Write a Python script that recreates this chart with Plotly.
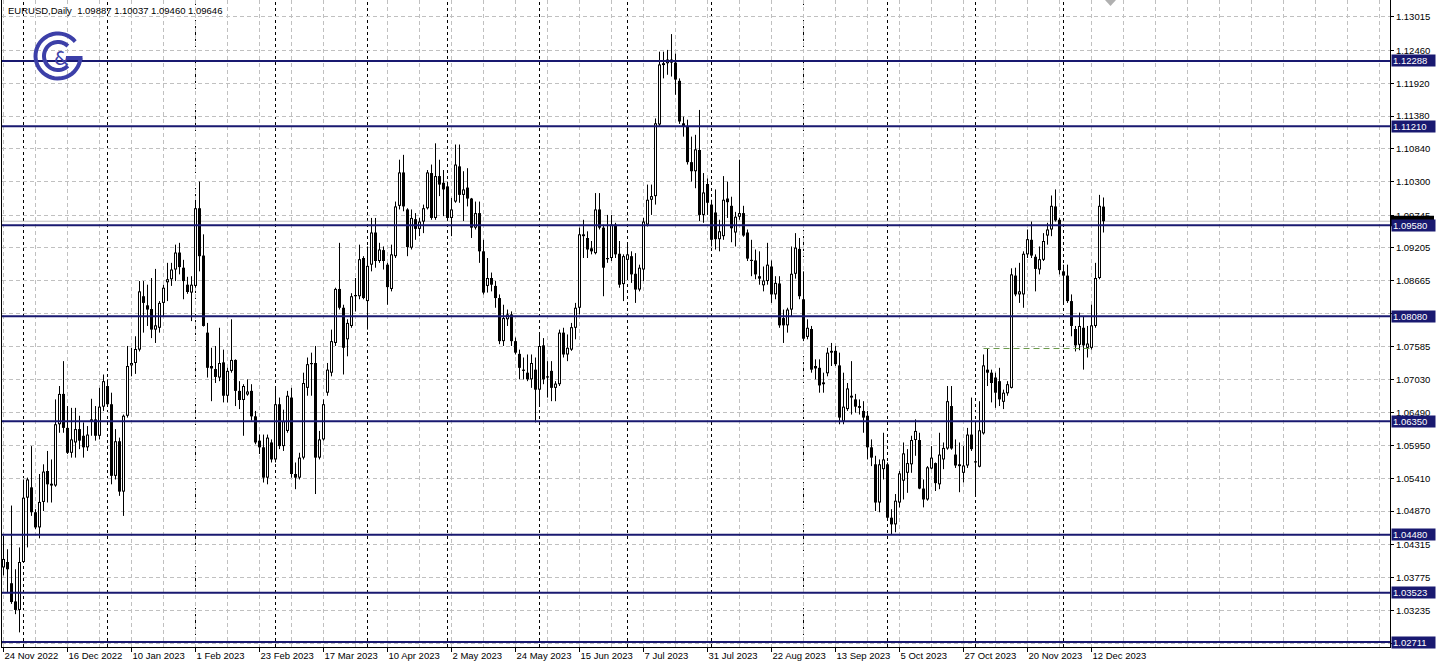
import plotly.graph_objects as go
import math

# ---------------- data (EURUSD daily) ----------------
title_text = "EURUSD,Daily  1.09887 1.10037 1.09460 1.09646"

opens = [
    1.0394, 1.0403, 1.0368, 1.0338, 1.0324, 1.0403, 1.0509, 1.0526, 1.0485, 1.0460,
    1.0502, 1.0553, 1.0532, 1.0529, 1.0630, 1.0680, 1.0624, 1.0583, 1.0600, 1.0622,
    1.0611, 1.0592, 1.0634, 1.0638, 1.0611, 1.0659, 1.0693, 1.0663, 1.0545, 1.0602,
    1.0519, 1.0644, 1.0727, 1.0731, 1.0753, 1.0841, 1.0826, 1.0820, 1.0786, 1.0789,
    1.0830, 1.0864, 1.0869, 1.0885, 1.0913, 1.0888, 1.0860, 1.0847, 1.0858, 1.0986,
    1.0908, 1.0781, 1.0726, 1.0721, 1.0707, 1.0732, 1.0677, 1.0718, 1.0736, 1.0685,
    1.0670, 1.0679, 1.0685, 1.0643, 1.0603, 1.0592, 1.0542, 1.0600, 1.0572, 1.0663,
    1.0594, 1.0619, 1.0674, 1.0548, 1.0542, 1.0575, 1.0690, 1.0729, 1.0731, 1.0575,
    1.0605, 1.0682, 1.0715, 1.0764, 1.0853, 1.0822, 1.0770, 1.0792, 1.0841, 1.0841,
    1.0904, 1.0833, 1.0893, 1.0946, 1.0899, 1.0917, 1.0893, 1.0853, 1.0907, 1.0990,
    1.1045, 1.0984, 1.0921, 1.0968, 1.0952, 1.0964, 1.0986, 1.1044, 1.0970, 1.1039,
    1.1028, 1.1022, 1.0970, 1.0997, 1.1055, 1.1008, 1.1020, 1.1002, 1.0954, 1.0978,
    1.0915, 1.0858, 1.0871, 1.0858, 1.0838, 1.0767, 1.0803, 1.0811, 1.0767, 1.0746,
    1.0720, 1.0715, 1.0704, 1.0720, 1.0687, 1.0760, 1.0709, 1.0718, 1.0690, 1.0696,
    1.0781, 1.0745, 1.0753, 1.0789, 1.0822, 1.0943, 1.0937, 1.0920, 1.0912, 1.0984,
    1.0954, 1.0904, 1.0904, 1.0959, 1.0911, 1.0861, 1.0901, 1.0907, 1.0878, 1.0852,
    1.0885, 1.0959, 1.1000, 1.1006, 1.1124, 1.1225, 1.1225, 1.1231, 1.1226, 1.1196,
    1.1126, 1.1121, 1.1062, 1.1047, 1.1082, 1.0975, 1.1026, 1.0992, 1.0979, 1.0935,
    1.0940, 1.1002, 1.0990, 1.0946, 1.0972, 1.0978, 1.0946, 1.0901, 1.0900, 1.0874,
    1.0859, 1.0866, 1.0890, 1.0844, 1.0862, 1.0805, 1.0793, 1.0819, 1.0878, 1.0919,
    1.0836, 1.0774, 1.0787, 1.0726, 1.0723, 1.0699, 1.0714, 1.0748, 1.0751, 1.0727,
    1.0635, 1.0655, 1.0677, 1.0671, 1.0657, 1.0652, 1.0644, 1.0592, 1.0564, 1.0501,
    1.0556, 1.0564, 1.0476, 1.0465, 1.0501, 1.0537, 1.0550, 1.0564, 1.0604, 1.0604,
    1.0524, 1.0506, 1.0557, 1.0566, 1.0531, 1.0572, 1.0590, 1.0660, 1.0580, 1.0564,
    1.0550, 1.0562, 1.0613, 1.0569, 1.0560, 1.0615, 1.0720, 1.0715, 1.0707, 1.0701,
    1.0667, 1.0681, 1.0690, 1.0875, 1.0844, 1.0844, 1.0910, 1.0934, 1.0906, 1.0885,
    1.0901, 1.0941, 1.0951, 1.0989, 1.0967, 1.0882, 1.0875, 1.0833, 1.0787, 1.0761,
    1.0789, 1.0756, 1.0756, 1.0792, 1.0871, 1.09887,
]
highs = [
    1.0446, 1.0424, 1.0496, 1.0391, 1.0427, 1.0539, 1.0542, 1.0594, 1.0490, 1.0548,
    1.0564, 1.0586, 1.0572, 1.0671, 1.0693, 1.0734, 1.0660, 1.0657, 1.0657, 1.0644,
    1.0633, 1.0627, 1.0672, 1.0660, 1.0690, 1.0712, 1.0704, 1.0682, 1.0622, 1.0608,
    1.0646, 1.0759, 1.0756, 1.0775, 1.0866, 1.0866, 1.0860, 1.0871, 1.0886, 1.0833,
    1.0860, 1.0896, 1.0896, 1.0926, 1.0929, 1.0901, 1.0873, 1.0874, 1.0997, 1.1030,
    1.0943, 1.0797, 1.0756, 1.0759, 1.0789, 1.0753, 1.0723, 1.0803, 1.0737, 1.0701,
    1.0696, 1.0704, 1.0696, 1.0652, 1.0613, 1.0613, 1.0613, 1.0605, 1.0693, 1.0674,
    1.0654, 1.0685, 1.0690, 1.0567, 1.0583, 1.0715, 1.0740, 1.0748, 1.0759, 1.0619,
    1.0671, 1.0731, 1.0786, 1.0855, 1.0929, 1.0827, 1.0803, 1.0846, 1.0871, 1.0926,
    1.0907, 1.0923, 1.0970, 1.0970, 1.0929, 1.0923, 1.0896, 1.0926, 1.0997, 1.1066,
    1.1074, 1.0986, 1.0984, 1.0978, 1.0970, 1.0992, 1.1049, 1.1058, 1.1093, 1.1066,
    1.1049, 1.1030, 1.1003, 1.1091, 1.1091, 1.1047, 1.1052, 1.1003, 1.0997, 1.0997,
    1.0934, 1.0904, 1.0880, 1.0866, 1.0844, 1.0827, 1.0819, 1.0816, 1.0773, 1.0753,
    1.0740, 1.0745, 1.0745, 1.0740, 1.0781, 1.0772, 1.0734, 1.0734, 1.0701, 1.0786,
    1.0789, 1.0778, 1.0797, 1.0830, 1.0954, 1.0967, 1.0948, 1.0932, 1.1011, 1.1011,
    1.0959, 1.0975, 1.0975, 1.0962, 1.0932, 1.0910, 1.0929, 1.0915, 1.0912, 1.0893,
    1.0970, 1.1025, 1.1025, 1.1134, 1.1244, 1.1244, 1.1247, 1.1273, 1.1241, 1.1200,
    1.1137, 1.1132, 1.1104, 1.1107, 1.1148, 1.1044, 1.1035, 1.1000, 1.1017, 1.0967,
    1.1039, 1.1030, 1.1005, 1.0980, 1.1066, 1.0990, 1.0951, 1.0934, 1.0918, 1.0915,
    1.0890, 1.0929, 1.0900, 1.0874, 1.0874, 1.0819, 1.0822, 1.0923, 1.0945, 1.0937,
    1.0882, 1.0803, 1.0792, 1.0737, 1.0737, 1.0715, 1.0756, 1.0764, 1.0759, 1.0748,
    1.0715, 1.0698, 1.0734, 1.0680, 1.0671, 1.0668, 1.0652, 1.0605, 1.0578, 1.0572,
    1.0616, 1.0567, 1.0490, 1.0515, 1.0553, 1.0600, 1.0589, 1.0611, 1.0638, 1.0616,
    1.0539, 1.0561, 1.0594, 1.0567, 1.0616, 1.0600, 1.0693, 1.0693, 1.0605, 1.0600,
    1.0594, 1.0624, 1.0674, 1.0633, 1.0668, 1.0745, 1.0754, 1.0720, 1.0715, 1.0723,
    1.0687, 1.0701, 1.0887, 1.0888, 1.0896, 1.0915, 1.0951, 1.0964, 1.0910, 1.0923,
    1.0945, 1.0962, 1.1007, 1.1017, 1.0970, 1.0893, 1.0893, 1.0844, 1.0792, 1.0814,
    1.0808, 1.0792, 1.0827, 1.0896, 1.1008, 1.10037,
]
lows = [
    1.0381, 1.0353, 1.0334, 1.0317, 1.0287, 1.0402, 1.0427, 1.0479, 1.0457, 1.0442,
    1.0487, 1.0501, 1.0501, 1.0527, 1.0616, 1.0616, 1.0581, 1.0575, 1.0575, 1.0589,
    1.0575, 1.0586, 1.0611, 1.0603, 1.0605, 1.0652, 1.0659, 1.0531, 1.0539, 1.0512,
    1.0479, 1.0641, 1.0709, 1.0713, 1.0750, 1.0781, 1.0792, 1.0772, 1.0764, 1.0781,
    1.0808, 1.0833, 1.0858, 1.0866, 1.0877, 1.0836, 1.0845, 1.0800, 1.0855, 1.0882,
    1.0791, 1.0707, 1.0668, 1.0698, 1.0701, 1.0666, 1.0666, 1.0715, 1.0660, 1.0655,
    1.0611, 1.0677, 1.0636, 1.0597, 1.0581, 1.0534, 1.0531, 1.0567, 1.0567, 1.0589,
    1.0586, 1.0616, 1.0542, 1.0523, 1.0539, 1.0572, 1.0677, 1.0677, 1.0515, 1.0572,
    1.0603, 1.0677, 1.0709, 1.0759, 1.0819, 1.0712, 1.0742, 1.0789, 1.0816, 1.0836,
    1.0836, 1.0786, 1.0882, 1.0888, 1.0896, 1.0885, 1.0827, 1.0849, 1.0904, 1.0984,
    1.0981, 1.0907, 1.0918, 1.0934, 1.0940, 1.0945, 1.0984, 1.0967, 1.0967, 1.1006,
    1.0973, 1.0965, 1.0940, 1.0995, 1.0995, 1.0965, 1.0989, 1.0937, 1.0951, 1.0896,
    1.0844, 1.0847, 1.0849, 1.0822, 1.0762, 1.0759, 1.0792, 1.0759, 1.0745, 1.0704,
    1.0704, 1.0701, 1.0690, 1.0633, 1.0663, 1.0696, 1.0674, 1.0668, 1.0668, 1.0693,
    1.0740, 1.0734, 1.0751, 1.0770, 1.0811, 1.0904, 1.0904, 1.0910, 1.0910, 1.0951,
    1.0841, 1.0896, 1.0899, 1.0904, 1.0855, 1.0833, 1.0871, 1.0863, 1.0830, 1.0849,
    1.0866, 1.0956, 1.0975, 1.0992, 1.1121, 1.1200, 1.1206, 1.1203, 1.1173, 1.1125,
    1.1104, 1.1058, 1.1030, 1.1019, 1.0965, 1.0962, 1.0975, 1.0923, 1.0918, 1.0915,
    1.0934, 1.0970, 1.0930, 1.0923, 1.0967, 1.0939, 1.0899, 1.0874, 1.0869, 1.0860,
    1.0849, 1.0860, 1.0830, 1.0836, 1.0789, 1.0764, 1.0781, 1.0808, 1.0870, 1.0836,
    1.0767, 1.0770, 1.0715, 1.0704, 1.0682, 1.0682, 1.0709, 1.0726, 1.0726, 1.0630,
    1.0630, 1.0652, 1.0646, 1.0649, 1.0646, 1.0616, 1.0572, 1.0561, 1.0487, 1.0485,
    1.0539, 1.0474, 1.0449, 1.0452, 1.0493, 1.0506, 1.0517, 1.0550, 1.0578, 1.0523,
    1.0493, 1.0504, 1.0556, 1.0520, 1.0523, 1.0556, 1.0588, 1.0588, 1.0558, 1.0518,
    1.0534, 1.0558, 1.0586, 1.0512, 1.0559, 1.0613, 1.0693, 1.0666, 1.0657, 1.0660,
    1.0655, 1.0677, 1.0689, 1.0841, 1.0830, 1.0822, 1.0904, 1.0904, 1.0849, 1.0877,
    1.0899, 1.0926, 1.0940, 1.0964, 1.0877, 1.0827, 1.0830, 1.0775, 1.0750, 1.0752,
    1.0720, 1.0740, 1.0753, 1.0789, 1.0869, 1.09460,
]
closes = [
    1.0408, 1.0391, 1.0337, 1.0324, 1.0403, 1.0509, 1.0539, 1.0485, 1.0460, 1.0502,
    1.0552, 1.0531, 1.0529, 1.0630, 1.0680, 1.0624, 1.0583, 1.0605, 1.0622, 1.0603,
    1.0592, 1.0613, 1.0638, 1.0611, 1.0659, 1.0701, 1.0663, 1.0545, 1.0602, 1.0519,
    1.0644, 1.0726, 1.0731, 1.0754, 1.0849, 1.0830, 1.0819, 1.0786, 1.0793, 1.0830,
    1.0855, 1.0869, 1.0885, 1.0913, 1.0889, 1.0866, 1.0848, 1.0860, 1.0986, 1.0907,
    1.0792, 1.0723, 1.0722, 1.0708, 1.0731, 1.0677, 1.0718, 1.0736, 1.0685, 1.0670,
    1.0693, 1.0684, 1.0643, 1.0600, 1.0592, 1.0542, 1.0608, 1.0572, 1.0663, 1.0594,
    1.0635, 1.0677, 1.0548, 1.0542, 1.0575, 1.0698, 1.0729, 1.0731, 1.0575, 1.0605,
    1.0663, 1.0720, 1.0767, 1.0853, 1.0822, 1.0756, 1.0797, 1.0841, 1.0843, 1.0902,
    1.0838, 1.0891, 1.0946, 1.0899, 1.0918, 1.0899, 1.0856, 1.0910, 1.0989, 1.1045,
    1.0989, 1.0922, 1.0970, 1.0952, 1.0964, 1.0986, 1.1045, 1.0970, 1.1039, 1.1025,
    1.1017, 1.0970, 1.0984, 1.1058, 1.1008, 1.1017, 1.1002, 1.0954, 1.0978, 1.0915,
    1.0847, 1.0871, 1.0860, 1.0838, 1.0767, 1.0805, 1.0811, 1.0767, 1.0748, 1.0723,
    1.0718, 1.0704, 1.0731, 1.0687, 1.0759, 1.0704, 1.0707, 1.0690, 1.0697, 1.0781,
    1.0745, 1.0756, 1.0790, 1.0822, 1.0943, 1.0940, 1.0918, 1.0915, 1.0984, 1.0954,
    1.0888, 1.0902, 1.0959, 1.0910, 1.0860, 1.0907, 1.0910, 1.0877, 1.0852, 1.0888,
    1.0964, 1.1000, 1.1006, 1.1126, 1.1223, 1.1222, 1.1231, 1.1226, 1.1198, 1.1129,
    1.1121, 1.1062, 1.1047, 1.1083, 1.0975, 1.1012, 1.0995, 1.0934, 1.0935, 1.0948,
    1.1000, 1.0996, 1.0953, 1.0972, 1.0978, 1.0941, 1.0903, 1.0899, 1.0877, 1.0870,
    1.0867, 1.0893, 1.0844, 1.0863, 1.0793, 1.0793, 1.0819, 1.0878, 1.0921, 1.0841,
    1.0771, 1.0789, 1.0720, 1.0722, 1.0694, 1.0696, 1.0748, 1.0751, 1.0729, 1.0641,
    1.0659, 1.0689, 1.0674, 1.0659, 1.0660, 1.0641, 1.0592, 1.0575, 1.0501, 1.0564,
    1.0572, 1.0476, 1.0465, 1.0504, 1.0549, 1.0582, 1.0566, 1.0604, 1.0619, 1.0524,
    1.0506, 1.0559, 1.0575, 1.0533, 1.0580, 1.0591, 1.0668, 1.0590, 1.0562, 1.0561,
    1.0562, 1.0613, 1.0589, 1.0567, 1.0620, 1.0727, 1.0715, 1.0698, 1.0682, 1.0671,
    1.0682, 1.0696, 1.0877, 1.0844, 1.0849, 1.0911, 1.0935, 1.0908, 1.0886, 1.0902,
    1.0932, 1.0951, 1.0990, 1.0966, 1.0884, 1.0875, 1.0833, 1.0792, 1.0760, 1.0792,
    1.0760, 1.0763, 1.0793, 1.0871, 1.0990, 1.09646,
]

# date labels every 16 bars
date_labels = ["24 Nov 2022", "16 Dec 2022", "10 Jan 2023", "1 Feb 2023", "23 Feb 2023",
               "17 Mar 2023", "10 Apr 2023", "2 May 2023", "24 May 2023", "15 Jun 2023",
               "7 Jul 2023", "31 Jul 2023", "22 Aug 2023", "13 Sep 2023", "5 Oct 2023",
               "27 Oct 2023", "20 Nov 2023", "12 Dec 2023"]
label_step = 16
grid_step = 8
# bar indices of the first trading day of each month (period separators)
month_starts = [5, 26, 48, 68, 91, 111, 134, 156, 177, 200, 221, 243, 265]

price_ticks = [1.13015, 1.12460, 1.11920, 1.11380, 1.10840, 1.10300, 1.09745, 1.09205,
               1.08665, 1.08125, 1.07585, 1.07030, 1.06490, 1.05950, 1.05410, 1.04870,
               1.04315, 1.03775, 1.03235, 1.02695]
hidden_ticks = [1.08125, 1.02695]   # covered by the level boxes in the original
levels = [1.12288, 1.11210, 1.09580, 1.08080, 1.06350, 1.04480, 1.03523, 1.02711]
bid_price = 1.09646
dashed_level = 1.07548
dashed_level_span = [245, 272]

# ---------------- layout geometry ----------------
W, H = 1438, 671
ML, MR, MT, MB = 2, 48, 0, 24
PW, PH = W - ML - MR, H - MT - MB
n_bars = len(opens)
BAR_PX = 4.0
x_range = [-0.375, -0.375 + PW / BAR_PX]
y_range = [1.02629, 1.13292]
one_px = (y_range[1] - y_range[0]) / PH

NAVY = "#191970"
GRID = "#c0c0c0"
FONT = "Liberation Sans"

def px2paper(px, py):
    return (px - ML) / PW, 1 - (py - MT) / PH

fig = go.Figure()

# wicks
wx, wy = [], []
for i in range(n_bars):
    wx += [i, i, None]
    wy += [lows[i], highs[i], None]
fig.add_trace(go.Scatter(x=wx, y=wy, mode="lines", line=dict(color="black", width=1, simplify=False),
                         hoverinfo="skip", showlegend=False))
# bodies (3 px black), then white interior for bullish bars
bx, by, hx, hy = [], [], [], []
for i in range(n_bars):
    o, c = opens[i], closes[i]
    lo_b, hi_b = min(o, c), max(o, c)
    if hi_b - lo_b < one_px:
        mid = (hi_b + lo_b) / 2
        lo_b, hi_b = mid - one_px / 2, mid + one_px / 2
    bx += [i, i, None]
    by += [lo_b, hi_b, None]
    if c > o and (hi_b - lo_b) > 2.2 * one_px:
        hx += [i, i, None]
        hy += [lo_b + one_px, hi_b - one_px, None]
fig.add_trace(go.Scatter(x=bx, y=by, mode="lines", line=dict(color="black", width=3, simplify=False),
                         hoverinfo="skip", showlegend=False))
fig.add_trace(go.Scatter(x=hx, y=hy, mode="lines", line=dict(color="white", width=1, simplify=False),
                         hoverinfo="skip", showlegend=False))

major_vals = [i * label_step for i in range(len(date_labels))]
minor_vals = [v for v in range(0, int(x_range[1]) + 1, grid_step) if v not in major_vals]

shapes = []
for m in month_starts:
    shapes.append(dict(type="line", xref="x", yref="paper", x0=m, x1=m, y0=0, y1=1,
                       line=dict(color="black", width=1, dash="3px,3px"), layer="below"))
shapes.append(dict(type="line", xref="paper", yref="y", x0=0, x1=1, y0=bid_price, y1=bid_price,
                   line=dict(color="#c0c0c0", width=1), layer="below"))
for lv in levels:
    shapes.append(dict(type="line", xref="paper", yref="y", x0=0, x1=1, y0=lv, y1=lv,
                       line=dict(color=NAVY, width=2), layer="above"))
shapes.append(dict(type="line", xref="x", yref="y", x0=dashed_level_span[0], x1=dashed_level_span[1],
                   y0=dashed_level, y1=dashed_level,
                   line=dict(color="#6a9a4a", width=1, dash="6px,4px"), layer="above"))

# bid price marker on the axis (mostly hidden behind the 1.09580 box)
shapes.append(dict(type="rect", xref="paper", yref="y", x0=1 + 1 / PW, x1=1 + 44 / PW,
                   y0=bid_price - 5 * one_px, y1=bid_price + 5.5 * one_px,
                   fillcolor="black", line=dict(width=0), layer="above"))

# chart shift marker
tx, ty = px2paper(1105, 0)
tx2, _ = px2paper(1116, 0)
tmx, tmy = px2paper(1110.5, 6)
shapes.append(dict(type="path", xref="paper", yref="paper",
                   path=f"M {tx},{ty} L {tx2},{ty} L {tmx},{tmy} Z",
                   fillcolor="#b0b0b0", line=dict(width=0)))

# logo
LOGO = "#3c3fa8"
cx, cy = 58, 56
def arc_path(r, a0, a1, n=40):
    pts = []
    for k in range(n + 1):
        a = math.radians(a0 + (a1 - a0) * k / n)
        pts.append(px2paper(cx + r * math.cos(a), cy - r * math.sin(a)))
    return "M " + " L ".join(f"{p[0]},{p[1]}" for p in pts)
shapes.append(dict(type="path", xref="paper", yref="paper", path=arc_path(22.5, 40, 355),
                   line=dict(color=LOGO, width=4)))
shapes.append(dict(type="path", xref="paper", yref="paper", path=arc_path(14, 45, 315),
                   line=dict(color=LOGO, width=4)))
gx0, gy0 = px2paper(cx + 8, cy + 2)
gx1, gy1 = px2paper(cx + 24.5, cy + 2)
shapes.append(dict(type="line", xref="paper", yref="paper", x0=gx0, y0=gy0, x1=gx1, y1=gy1,
                   line=dict(color=LOGO, width=4)))

annotations = []
lx, ly = px2paper(61, 58)
annotations.append(dict(x=lx, y=ly, xref="paper", yref="paper", text="&", showarrow=False,
                        font=dict(family="DejaVu Sans", size=19, color=LOGO),
                        xanchor="center", yanchor="middle"))
t_x, t_y = px2paper(6, 10.5)
annotations.append(dict(x=t_x, y=t_y, xref="paper", yref="paper", text=title_text,
                        showarrow=False, xanchor="left", yanchor="middle",
                        font=dict(family=FONT, size=9.5, color="black")))
for lv in levels:
    annotations.append(dict(x=1, y=lv, xref="paper", yref="y", text=f"{lv:.5f}",
                            showarrow=False, xanchor="left", yanchor="middle", xshift=1,
                            bgcolor=NAVY, font=dict(family=FONT, size=9.5, color="white"),
                            width=41, height=9, borderpad=1, align="left"))

fig.update_layout(
    width=W, height=H,
    margin=dict(l=ML, r=MR, t=MT, b=MB),
    paper_bgcolor="white", plot_bgcolor="white",
    shapes=shapes, annotations=annotations,
    showlegend=False,
    font=dict(family=FONT, size=9.5, color="black"),
    xaxis=dict(
        range=x_range,
        tickmode="array", tickvals=major_vals, ticktext=date_labels,
        ticks="outside", ticklen=4, tickcolor="black", ticklabelposition="outside right",
        showgrid=True, gridcolor=GRID, griddash="4px,3px", gridwidth=1,
        minor=dict(tickvals=minor_vals, showgrid=True, gridcolor=GRID, griddash="4px,3px",
                   gridwidth=1, ticks=""),
        showline=True, linecolor="black", linewidth=1, mirror=True,
        zeroline=False, fixedrange=True,
        tickfont=dict(family=FONT, size=9.5, color="black"),
    ),
    yaxis=dict(
        range=y_range, side="right",
        tickmode="array", tickvals=price_ticks,
        ticktext=["" if v in hidden_ticks else f"{v:.5f}" for v in price_ticks],
        ticks="outside", ticklen=3, tickcolor="black",
        showgrid=True, gridcolor=GRID, griddash="4px,3px", gridwidth=1,
        showline=True, linecolor="black", linewidth=1, mirror=True,
        zeroline=False, fixedrange=True,
        tickfont=dict(family=FONT, size=9.5, color="black"),
    ),
)

fig.write_html("out.html", config={"displayModeBar": False},
               post_script="document.body.style.margin='0';document.body.style.overflow='hidden';")
